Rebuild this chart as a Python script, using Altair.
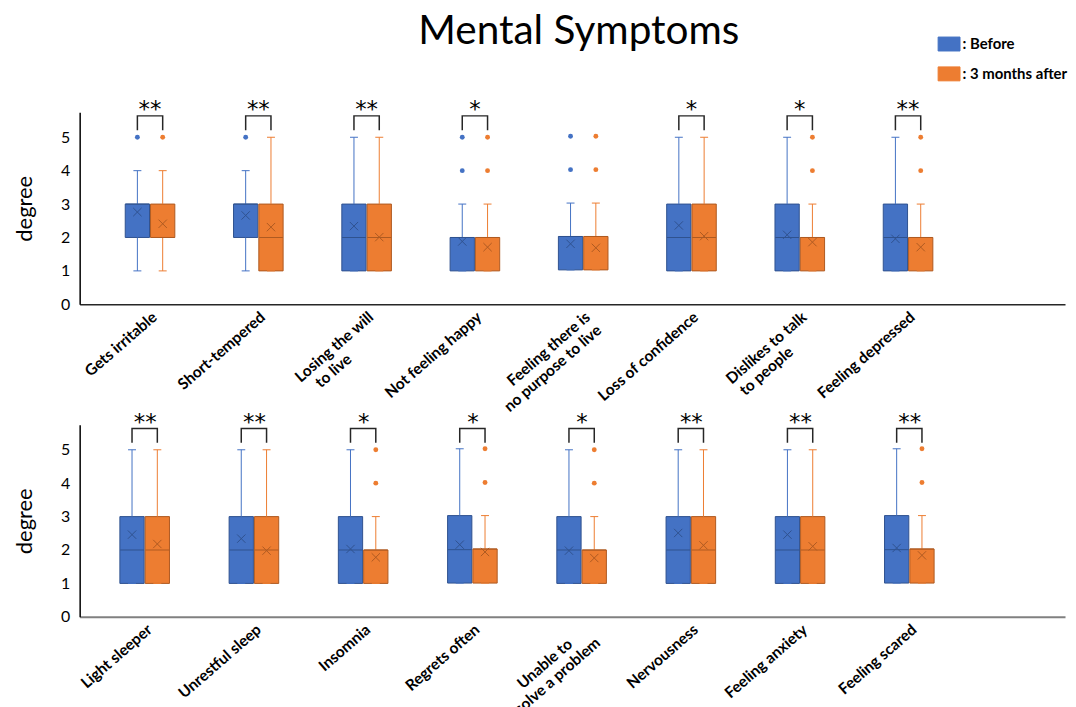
import altair as alt
import pandas as pd

GROUPS = ["Before", "3 months after"]
OFFSET_DOMAIN = ["_left", "Before", "3 months after", "_right"]
FILL = ["#4472C4", "#ED7D31"]
DARK = ["#2F528F", "#AE5A21"]

# ---------------- top panel ----------------
top_categories = ["Gets irritable", "Short-tempered", "Losing  the will|to live", "Not feeling happy",
                  "Feeling there is|no purpose to live", "Loss of confidence",
                  "Dislikes to talk|to people", "Feeling depressed"]
top_sig = ["**", "**", "**", "*", "", "*", "*", "**"]

top_b_min = [1, 1, 1, 1, 1.03, 1, 1, 1]
top_b_q1 = [2, 2, 1, 1, 1.03, 1, 1, 1]
top_b_med = [3, 3, 2, 2, 2.03, 2, 2, 2]
top_b_q3 = [3, 3, 3, 2, 2.03, 3, 3, 3]
top_b_max = [4, 4, 5, 3, 3.03, 5, 5, 5]
top_b_mean = [2.76, 2.66, 2.34, 1.88, 1.81, 2.36, 2.08, 1.96]
top_b_out = [[5], [5], [], [4, 5], [4.03, 5.03], [], [], []]

top_a_min = [1, 1, 1, 1, 1.03, 1, 1, 1]
top_a_q1 = [2, 1, 1, 1, 1.03, 1, 1, 1]
top_a_med = [2, 2, 2, 2, 2.03, 2, 2, 2]
top_a_q3 = [3, 3, 3, 2, 2.03, 3, 2, 2]
top_a_max = [4, 5, 5, 3, 3.03, 5, 3, 3]
top_a_mean = [2.41, 2.31, 2.01, 1.71, 1.69, 2.04, 1.86, 1.71]
top_a_out = [[5], [], [], [4, 5], [4.03, 5.03], [], [4, 5], [4, 5]]

# ---------------- bottom panel ----------------
bot_categories = ["Light sleeper", "Unrestful sleep", "Insomnia", "Regrets often",
                  "Unable to|solve a problem", "Nervousness", "Feeling anxiety", "Feeling scared"]
bot_sig = ["**", "**", "*", "*", "*", "**", "**", "**"]

bot_b_min = [1, 1, 1, 1.01, 1, 1, 1, 1.01]
bot_b_q1 = [1, 1, 1, 1.01, 1, 1, 1, 1.01]
bot_b_med = [2, 2, 2, 2.01, 2, 2, 2, 2.01]
bot_b_q3 = [3, 3, 3, 3.03, 3, 3, 3, 3.03]
bot_b_max = [5, 5, 5, 5.03, 5, 5, 5, 5.03]
bot_b_mean = [2.46, 2.34, 2.03, 2.16, 1.98, 2.51, 2.46, 2.06]
bot_b_out = [[], [], [], [], [], [], [], []]

bot_a_min = [1, 1, 1, 1.01, 1, 1, 1, 1.01]
bot_a_q1 = [1, 1, 1, 1.01, 1, 1, 1, 1.01]
bot_a_med = [2, 2, 2, 2.03, 2, 2, 2, 2.03]
bot_a_q3 = [3, 3, 2, 2.03, 2, 3, 3, 2.03]
bot_a_max = [5, 5, 3, 3.03, 3, 5, 5, 3.03]
bot_a_mean = [2.18, 1.98, 1.78, 1.94, 1.76, 2.14, 2.11, 1.84]
bot_a_out = [[], [], [4, 5], [4.02, 5.03], [4, 5], [], [], [4.02, 5.03]]

BR_LOW, BR_HIGH, STAR_Y = 5.21, 5.64, 5.80
XPATH = "M-1,-1L1,1M-1,1L1,-1"
RECT = "M-1.1,-0.7H1.1V0.7H-1.1Z"

# multi-line labels: split on '|', pad the shorter line at its end with blank
# (braille-blank) characters so that the two lines look centred on each other
_P = "split(datum.label,'|')"
_M = f"max(length({_P}[0]),length({_P}[1]))"
_B = "\u2800"
LABEL_EXPR = (f"length({_P}) > 1 ? ["
              f"pad({_P}[0], length({_P}[0]) + floor(0.48*({_M}-length({_P}[0]))), '{_B}', 'right'), "
              f"pad({_P}[1], length({_P}[1]) + floor(0.48*({_M}-length({_P}[1]))), '{_B}', 'right')]"
              f" : datum.label")


def frames(cats, sig, b, a):
    box_rows, out_rows, br_rows, star_rows = [], [], [], []
    for i, c in enumerate(cats):
        for g, s in zip(GROUPS, (b, a)):
            box_rows.append({"cat": c, "group": g, "lo": s[0][i], "q1": s[1][i], "med": s[2][i],
                             "q3": s[3][i], "hi": s[4][i], "mean": s[5][i]})
            for v in s[6][i]:
                out_rows.append({"cat": c, "group": g, "v": v})
        if sig[i]:
            pts = [(GROUPS[0], BR_LOW), (GROUPS[0], BR_HIGH), (GROUPS[1], BR_HIGH), (GROUPS[1], BR_LOW)]
            for k, (g, yv) in enumerate(pts):
                br_rows.append({"cat": c, "group": g, "y": yv, "k": k})
            star_rows.append({"cat": c, "sig": sig[i], "y": STAR_Y})
    return (pd.DataFrame(box_rows), pd.DataFrame(out_rows),
            pd.DataFrame(br_rows), pd.DataFrame(star_rows))


cscale = alt.Scale(domain=GROUPS, range=FILL)
dscale = alt.Scale(domain=GROUPS, range=DARK)

legend = alt.Legend(title=None, orient="none", legendX=863, legendY=-79, direction="vertical",
                    symbolType=RECT, symbolSize=400, symbolStrokeColor="#41719C", symbolStrokeWidth=1,
                    symbolOpacity=1, labelExpr="': ' + datum.label", labelFont="Lato",
                    labelFontSize=15, labelFontWeight="bold", labelColor="black",
                    rowPadding=10, labelOffset=3)


def panel(cats, sig, b, a, po, align, opo, dom_color, dom_width):
    boxes, outs, brs, stars = frames(cats, sig, b, a)
    xs = alt.Scale(domain=cats, paddingInner=0, paddingOuter=po, align=align)
    xaxis = alt.Axis(title=None, labelExpr=LABEL_EXPR, labelAngle=-41,
                     labelAlign="right", labelBaseline="top", labelFontSize=15.5,
                     labelFontWeight="bold", labelFont="Lato", labelColor="black",
                     labelPadding=5, ticks=False, domainColor=dom_color, domainWidth=dom_width,
                     labelOverlap=False, labelLimit=300)
    ys = alt.Scale(domain=[0, 5.75], nice=False, zero=True)
    yaxis = alt.Axis(title="degree", values=[0, 1, 2, 3, 4, 5], format="d", ticks=False, grid=False,
                     domainColor="black", domainWidth=1.5, labelFontSize=16, labelFont="Lato",
                     labelColor="black", labelPadding=10, titleFontSize=22, titleFont="Lato",
                     titleFontWeight="normal", titleColor="black", titlePadding=24)

    X = alt.X("cat:N", scale=xs, axis=xaxis)
    XO = alt.XOffset("group:N", scale=alt.Scale(domain=OFFSET_DOMAIN, paddingInner=0.04, paddingOuter=opo))

    def Y(f):
        return alt.Y(f"{f}:Q", scale=ys, axis=yaxis)

    col = alt.Color("group:N", scale=cscale, legend=legend)

    box = alt.Chart(boxes).mark_bar(strokeWidth=1, opacity=1).encode(
        x=X, xOffset=XO, y=Y("q1"), y2="q3", color=col,
        stroke=alt.Stroke("group:N", scale=dscale, legend=None))
    wup = alt.Chart(boxes).mark_rule(strokeWidth=1).encode(x=X, xOffset=XO, y=Y("q3"), y2="hi", color=col)
    wlo = alt.Chart(boxes).mark_rule(strokeWidth=1).encode(x=X, xOffset=XO, y=Y("lo"), y2="q1", color=col)
    capt = alt.Chart(boxes).mark_tick(thickness=1, size=8, opacity=1).encode(x=X, xOffset=XO, y=Y("hi"), color=col)
    capb = alt.Chart(boxes).mark_tick(thickness=1, size=8, opacity=1).encode(x=X, xOffset=XO, y=Y("lo"), color=col)
    med = alt.Chart(boxes).mark_tick(thickness=1, size=24, opacity=1).encode(
        x=X, xOffset=XO, y=Y("med"), fill=alt.Fill("group:N", scale=dscale, legend=None))
    mean = alt.Chart(boxes).mark_point(shape=XPATH, size=70, filled=False, strokeWidth=1, opacity=1).encode(
        x=X, xOffset=XO, y=Y("mean"), stroke=alt.Stroke("group:N", scale=dscale, legend=None))
    outl = alt.Chart(outs).mark_circle(size=24, opacity=1).encode(x=X, xOffset=XO, y=Y("v"), color=col)
    brk = alt.Chart(brs).mark_line(color="#262626", strokeWidth=1.5).encode(
        x=X, xOffset=XO, y=Y("y"), detail="cat:N", order="k:Q")
    star = alt.Chart(stars).mark_text(font="DejaVu Sans", fontSize=23, baseline="middle", color="black").encode(
        x=X, y=Y("y"), text="sig:N")
    return alt.layer(box, wup, wlo, capt, capb, med, mean, outl, brk, star).properties(width=990, height=193)


top = panel(top_categories, top_sig,
            (top_b_min, top_b_q1, top_b_med, top_b_q3, top_b_max, top_b_mean, top_b_out),
            (top_a_min, top_a_q1, top_a_med, top_a_q3, top_a_max, top_a_mean, top_a_out),
            0.5496, 0.1363, 0.16, "#262626", 1.5)
bottom = panel(bot_categories, bot_sig,
               (bot_b_min, bot_b_q1, bot_b_med, bot_b_q3, bot_b_max, bot_b_mean, bot_b_out),
               (bot_a_min, bot_a_q1, bot_a_med, bot_a_q3, bot_a_max, bot_a_mean, bot_a_out),
               0.5103, 0.0975, 0.18, "#808080", 2)

chart = alt.vconcat(top, bottom, spacing=-4).properties(
    title=alt.TitleParams("Mental Symptoms", font="Lato", fontSize=40.7, fontWeight="normal",
                          color="black", anchor="middle", dx=6.5, dy=19, offset=0, frame="group"),
    padding={"left": 5, "top": 1, "right": 0, "bottom": 5},
).configure_view(stroke=None).configure_axis(grid=False)

chart.save("out.html", embed_options={"renderer": "svg", "actions": False})
